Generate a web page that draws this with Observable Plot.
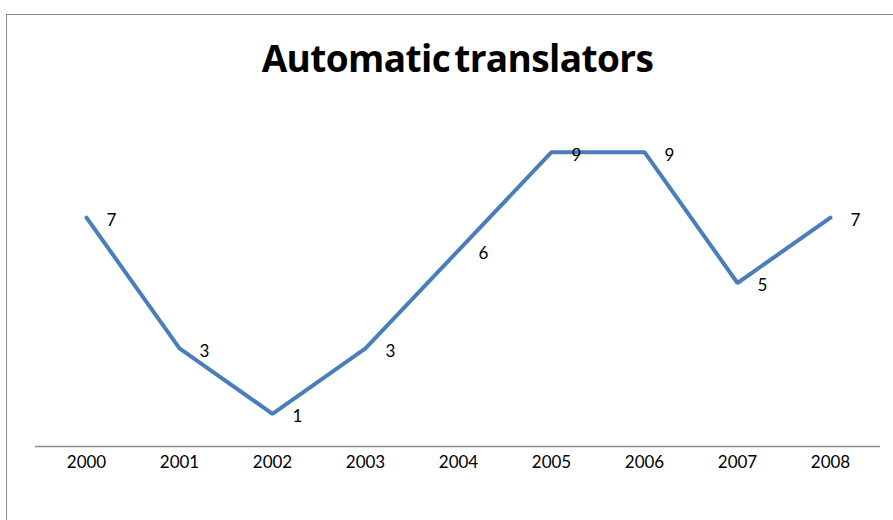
<!DOCTYPE html>
<html>
<head>
<meta charset="utf-8">
<script src="https://cdn.jsdelivr.net/npm/d3@7"></script>
<script src="https://cdn.jsdelivr.net/npm/@observablehq/plot@0.6"></script>
<style>
  html, body { margin: 0; padding: 0; background: #fff; overflow: hidden; }
  #wrap { position: relative; width: 893px; height: 520px; overflow: hidden; }
  #frame { position: absolute; left: 6px; top: 14px; width: 910px; height: 530px; border: 1px solid #8c8c8c; box-sizing: border-box; }
  #title { position: absolute; left: 0; top: 39px; width: 893px; height: 37px; padding-left: 22px; box-sizing: border-box;
           text-align: center; font-family: "Open Sans", sans-serif; font-weight: bold; font-size: 37px; line-height: 37px; color: #000; word-spacing: -5px; letter-spacing: -0.6px; }
  #chart { position: absolute; left: 0; top: 100px; }
</style>
</head>
<body>
<div id="wrap">
  <div id="frame"></div>
  <div id="title">Automatic translators</div>
  <div id="chart"></div>
</div>
<script>
const years = ["2000","2001","2002","2003","2004","2005","2006","2007","2008"];
const values = [7, 3, 1, 3, 6, 9, 9, 5, 7];
const seriesName = "Automatic translators";

const data = years.map((y, i) => ({year: y, value: values[i]}));

const plot = Plot.plot({
  width: 893,
  height: 420,
  marginLeft: 35,
  marginRight: 13,
  marginTop: 19,
  marginBottom: 74,
  style: {fontFamily: "Lato, sans-serif", fontSize: "17px", color: "#000", background: "transparent"},
  x: {type: "point", domain: years, padding: 0.5, label: null, tickSize: 0, tickPadding: 9},
  y: {domain: [0, 10], axis: null},
  marks: [
    Plot.ruleY([0], {stroke: "#8c8c8c", strokeWidth: 1.5}),
    Plot.line(data, {x: "year", y: "value", stroke: "#4a7ebb", strokeWidth: 4, strokeLinejoin: "miter"}),
    Plot.text(data, {x: "year", y: "value", text: d => String(d.value), dx: 25, dy: 3, fill: "#000", fontSize: 17})
  ]
});
document.getElementById("chart").appendChild(plot);
</script>
</body>
</html>
